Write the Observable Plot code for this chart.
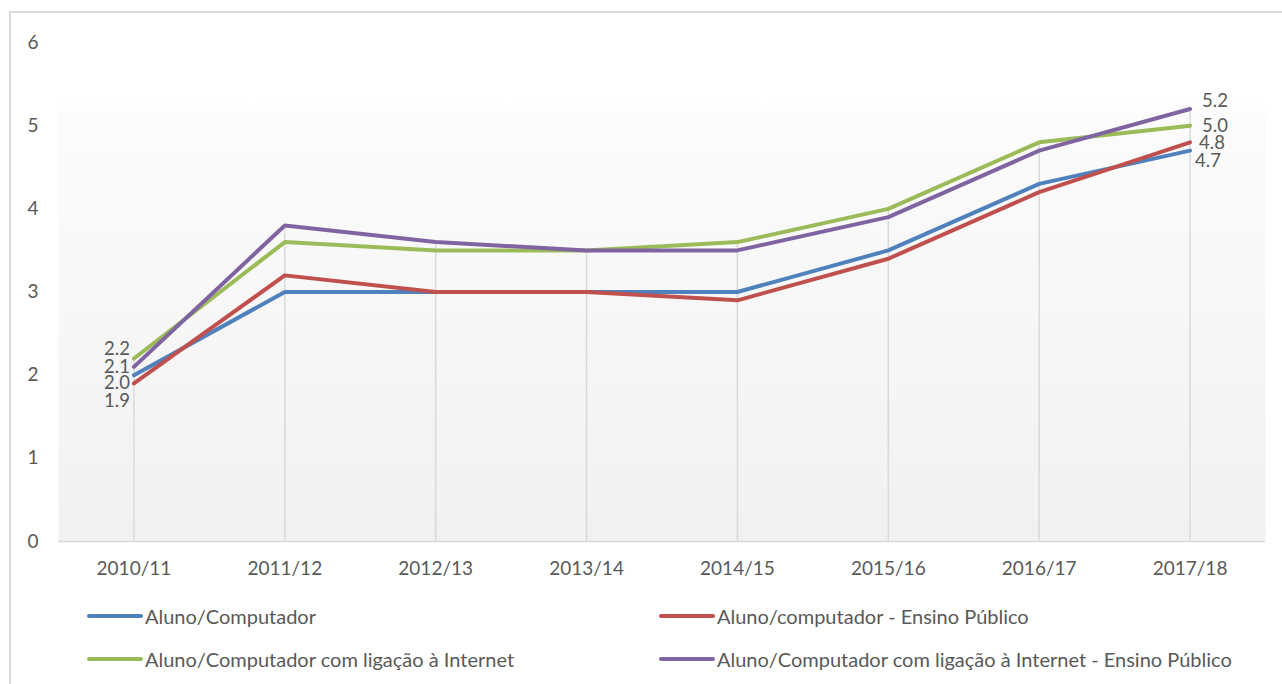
<!DOCTYPE html>
<html><head><meta charset="utf-8">
<script src="https://cdn.jsdelivr.net/npm/d3@7"></script>
<script src="https://cdn.jsdelivr.net/npm/@observablehq/plot@0.6"></script>
<style>
body{margin:0;background:#fff;font-family:Lato, "Open Sans", sans-serif;color:#595959;}
#wrap{position:relative;width:1282px;height:684px;overflow:hidden;}
#border{position:absolute;left:9px;top:11px;right:-5px;bottom:-5px;border-left:2px solid #d9d9d9;border-top:2px solid #d9d9d9;pointer-events:none;}
#chart{position:absolute;left:0;top:0;}
.legend{position:absolute;display:flex;align-items:center;font-size:20px;white-space:nowrap;height:24px;}
.sw{width:56px;height:4px;border-radius:2px;margin-right:2px;}
</style></head><body>
<div id="wrap"><div id="chart"></div><div id="border"></div></div>
<script>
// ---- data ----
const years = ["2010/11","2011/12","2012/13","2013/14","2014/15","2015/16","2016/17","2017/18"];
const seriesNames = [
  "Aluno/Computador",
  "Aluno/computador - Ensino Público",
  "Aluno/Computador com ligação à Internet",
  "Aluno/Computador com ligação à Internet - Ensino Público"
];
const alunoComputador        = [2.0, 3.0, 3.0, 3.0, 3.0, 3.5, 4.3, 4.7];
const alunoComputadorPublico = [1.9, 3.2, 3.0, 3.0, 2.9, 3.4, 4.2, 4.8];
const alunoInternet          = [2.2, 3.6, 3.5, 3.5, 3.6, 4.0, 4.8, 5.0];
const alunoInternetPublico   = [2.1, 3.8, 3.6, 3.5, 3.5, 3.9, 4.7, 5.2];
const yTicks = [0, 1, 2, 3, 4, 5, 6];

// ---- styles ----
const colors = ["#4f81bd", "#c0504d", "#9bbb59", "#8064a2"];
// label offsets (px) to de-overlap end labels, per series index
const startDy = [8, 18, -9, 0];
const endDx = [5, 9, 12, 12];
const endDy = [10, 1, 0, -7.5];

const seriesValues = [alunoComputador, alunoComputadorPublico, alunoInternet, alunoInternetPublico];
const data = [];
seriesNames.forEach((s, i) => years.forEach((y, j) => data.push({series: s, si: i, year: y, value: seriesValues[i][j]})));
const drops = years.map((y, j) => ({year: y, max: d3.max(seriesValues, v => v[j])}));

const font = "Lato, 'Open Sans', sans-serif";
const marks = [
  Plot.frame({fill: "url(#bgGrad)", stroke: "none"}),
  Plot.ruleX(drops, {x: "year", y1: 0, y2: "max", stroke: "#d9d9d9", strokeWidth: 1.5}),
  Plot.ruleY([0], {stroke: "#d9d9d9", strokeWidth: 1.5}),
  Plot.axisY({ticks: yTicks, tickSize: 0, tickPadding: 20, fontSize: 19, tickFormat: d => d, fill: "#595959"}),
  Plot.axisX({tickSize: 0, tickPadding: 20, fontSize: 19, fill: "#595959"}),
  Plot.line(data, {x: "year", y: "value", stroke: "series", z: "series", strokeWidth: 4, strokeLinecap: "round", strokeLinejoin: "round"})
];
seriesNames.forEach((s, i) => {
  const first = data.filter(d => d.si === i && d.year === years[0]);
  const last = data.filter(d => d.si === i && d.year === years[years.length - 1]);
  marks.push(Plot.text(first, {x: "year", y: "value", text: d => d.value.toFixed(1), textAnchor: "end", dx: -4, dy: startDy[i], fontSize: 18.5, fill: "#595959"}));
  marks.push(Plot.text(last, {x: "year", y: "value", text: d => d.value.toFixed(1), textAnchor: "start", dx: endDx[i], dy: endDy[i], fontSize: 18.5, fill: "#595959"}));
});

const chart = Plot.plot({
  width: 1282,
  height: 590,
  marginLeft: 58,
  marginRight: 17,
  marginTop: 42,
  marginBottom: 49,
  style: {fontFamily: font, background: "transparent", color: "#595959"},
  x: {type: "point", domain: years, padding: 0.5, round: false, label: null},
  y: {domain: [0, 6], label: null},
  color: {domain: seriesNames, range: colors},
  marks
});
const ns = "http://www.w3.org/2000/svg";
const defs = document.createElementNS(ns, "defs");
defs.innerHTML = '<linearGradient id="bgGrad" x1="0" y1="0" x2="0" y2="1"><stop offset="0" stop-color="#ffffff"/><stop offset="0.12" stop-color="#ffffff"/><stop offset="0.14" stop-color="#fcfcfc"/><stop offset="1" stop-color="#f1f1f1"/></linearGradient>';
chart.insertBefore(defs, chart.firstChild);
document.getElementById("chart").appendChild(chart);

// legend
const legendPos = [[87, 604], [659, 604], [87, 647], [659, 647]];
seriesNames.forEach((s, i) => {
  const el = document.createElement("div");
  el.className = "legend";
  el.style.left = legendPos[i][0] + "px";
  el.style.top = legendPos[i][1] + "px";
  el.innerHTML = `<span class="sw" style="background:${colors[i]}"></span><span>${s}</span>`;
  document.getElementById("wrap").appendChild(el);
});
</script>
</body></html>
